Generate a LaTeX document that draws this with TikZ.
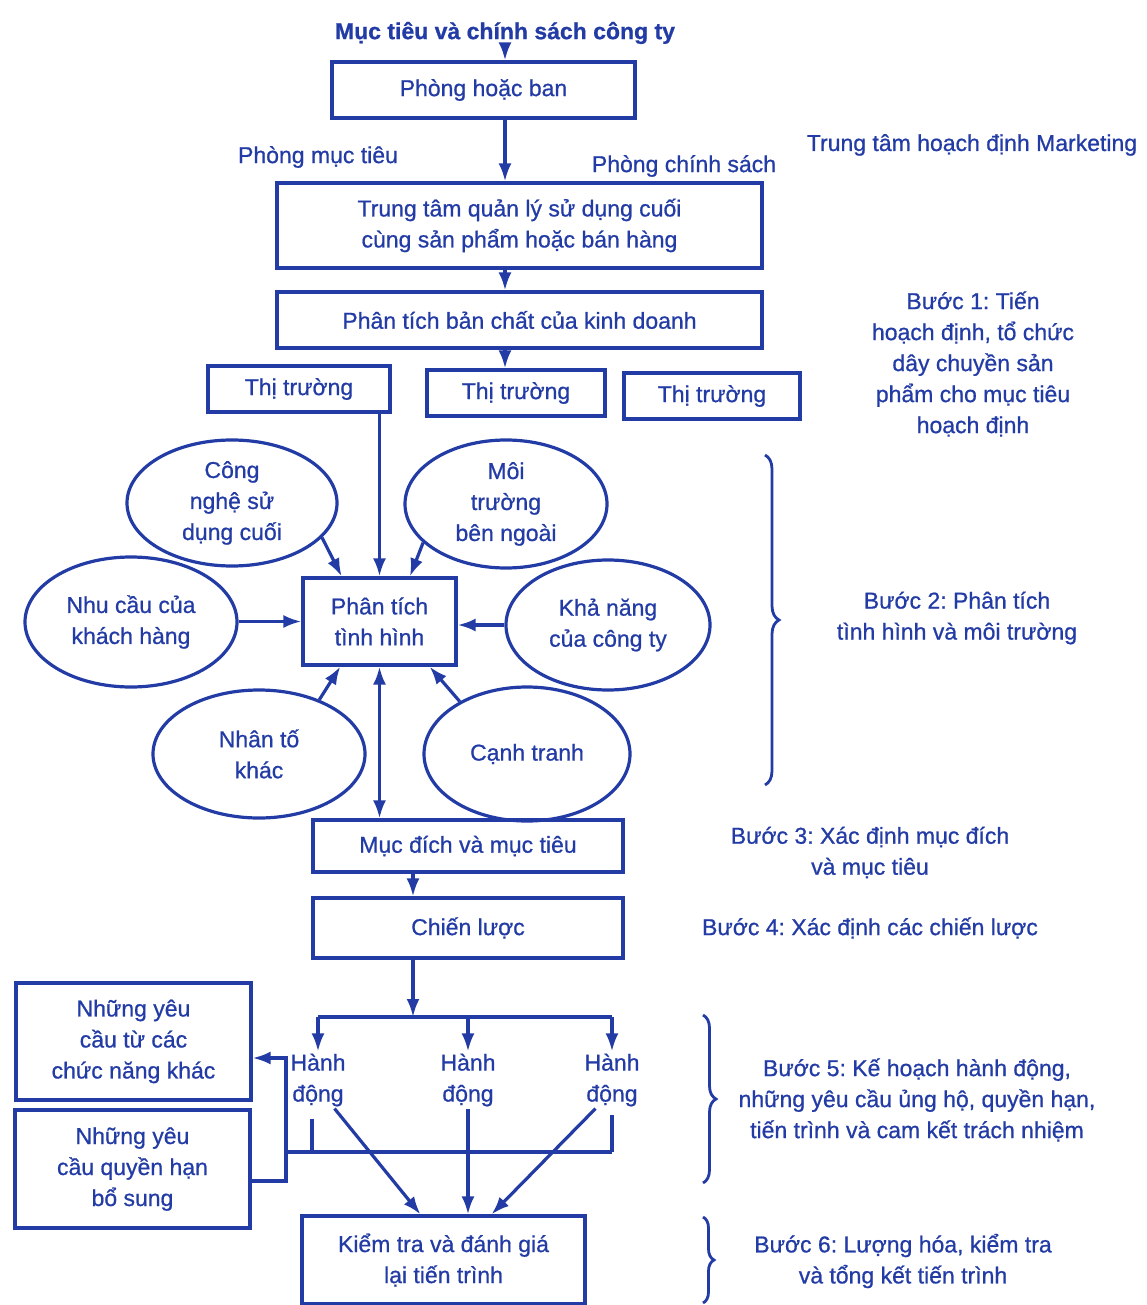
\documentclass[tikz,border=0pt]{standalone}
\usepackage{fontspec}
\setmainfont{Liberation Sans}[FakeBold=0.8]
\usetikzlibrary{shapes.geometric,arrows.meta,decorations.pathreplacing}
\definecolor{ink}{RGB}{35,60,165}
\frenchspacing
\begin{document}
\begin{tikzpicture}[x=10pt,y=10pt,
  box/.style={draw=ink,line width=3.2pt,align=center},
  oval/.style={draw=ink,ellipse,line width=3.2pt,align=center,inner sep=0pt},
  arr/.style={draw=ink,line width=3.2pt,-{Latex[length=18pt,width=13pt]}},
  dblarr/.style={draw=ink,line width=3.2pt,{Latex[length=18pt,width=13pt]}-{Latex[length=18pt,width=13pt]}},
  link/.style={draw=ink,line width=3.2pt},
  brc/.style={draw=ink,line width=2.8pt,decorate,decoration={brace,amplitude=#1}}]
\tikzstyle{every node}+=[font=\fontsize{23}{31}\selectfont,text=ink]
\useasboundingbox (0,0) rectangle (114.7,-130.5);
\node[font=\fontsize{23}{31}\selectfont\bfseries] (title) at (50.5,-3.3) {Mục tiêu và chính sách công ty};
\node[box,minimum width=303pt,minimum height=56pt] (ban) at (48.35,-9.0) {Phòng hoặc ban};
\node (pmt) at (31.8,-15.7) {Phòng mục tiêu};
\node (pcs) at (68.4,-16.6) {Phòng chính sách};
\node (ttm) at (97.2,-14.5) {Trung tâm hoạch định Marketing};
\node[box,minimum width=485pt,minimum height=85pt] (tt) at (51.95,-22.55) {Trung tâm quản lý sử dụng cuối\\cùng sản phẩm hoặc bán hàng};
\node[box,minimum width=485pt,minimum height=56pt] (pt) at (51.95,-32.0) {Phân tích bản chất của kinh doanh};
\node[box,minimum width=182pt,minimum height=46pt] (th1) at (29.9,-38.9) {Thị trường};
\node[box,minimum width=178pt,minimum height=46pt] (th2) at (51.6,-39.3) {Thị trường};
\node[box,minimum width=176pt,minimum height=46pt] (th3) at (71.2,-39.6) {Thị trường};
\node[align=center] (b1) at (97.3,-36.4) {Bước 1: Tiến\\hoạch định, tổ chức\\dây chuyền sản\\phẩm cho mục tiêu\\hoạch định};
\node[oval,minimum width=210pt,minimum height=126pt] (cn) at (23.2,-50.3) {Công\\nghệ sử\\dụng cuối};
\node[oval,minimum width=202pt,minimum height=128pt] (mt) at (50.6,-50.4) {Môi\\trường\\bên ngoài};
\node[oval,minimum width=212pt,minimum height=130pt] (nc) at (13.1,-62.2) {Nhu cầu của\\khách hàng};
\node[box,minimum width=153pt,minimum height=87pt] (tth) at (37.95,-62.15) {Phân tích\\tình hình};
\node[oval,minimum width=204pt,minimum height=130pt] (kn) at (60.8,-62.5) {Khả năng\\của công ty};
\node[oval,minimum width=212pt,minimum height=128pt] (nt) at (25.9,-75.4) {Nhân tố\\khác};
\node[oval,minimum width=206pt,minimum height=134pt] (ct) at (52.7,-75.4) {Cạnh tranh};
\node[align=center] (b2) at (95.7,-61.8) {Bước 2: Phân tích\\tình hình và môi trường};
\node[box,minimum width=310pt,minimum height=52pt] (md) at (46.8,-84.6) {Mục đích và mục tiêu};
\node[box,minimum width=310pt,minimum height=60pt] (cl) at (46.8,-92.8) {Chiến lược};
\node[align=center] (b3) at (87.0,-85.25) {Bước 3: Xác định mục đích\\và mục tiêu};
\node (b4) at (87.0,-92.8) {Bước 4: Xác định các chiến lược};
\node[box,minimum width=235pt,minimum height=117pt] (yc1) at (13.35,-104.15) {Những yêu\\cầu từ các\\chức năng khác};
\node[box,minimum width=235pt,minimum height=118pt] (yc2) at (13.25,-116.9) {Những yêu\\cầu quyền hạn\\bổ sung};
\node[align=center,inner sep=2pt] (hd1) at (31.8,-108.0) {Hành\\động};
\node[align=center,inner sep=2pt] (hd2) at (46.8,-108.0) {Hành\\động};
\node[align=center,inner sep=2pt] (hd3) at (61.2,-108.0) {Hành\\động};
\node[box,minimum width=283pt,minimum height=88pt] (kt) at (44.35,-126.0) {Kiểm tra và đánh giá\\lại tiến trình};
\node[align=center] (b5) at (91.7,-110.0) {Bước 5: Kế hoạch hành động,\\những yêu cầu ủng hộ, quyền hạn,\\tiến trình và cam kết trách nhiệm};
\node[align=center] (b6) at (90.3,-126.1) {Bước 6: Lượng hóa, kiểm tra\\và tổng kết tiến trình};
\draw[arr] (title) -- (ban.north -| title);
\draw[arr] (ban.south -| title) -- (tt.north -| title);
\draw[arr] (tt.south -| title) -- (pt.north -| title);
\draw[arr] (pt.south -| title) -- (th2.north -| title);
\draw[arr] (th1.south -| tth) -- (tth.north);
\draw[arr] (cn.-21) -- (tth.130);
\draw[arr] (mt.205) -- (tth.56);
\draw[arr] (nc.east |- tth) -- (tth.west);
\draw[arr] (kn.west) -- (tth.east |- kn.west);
\draw[arr] (nt.42) -- (tth.229);
\draw[arr] (ct.142) -- (tth.-42);
\draw[dblarr] (tth.south) -- (tth.south |- md.north);
\draw[arr] ([xshift=-55pt]md.south) -- ([xshift=-55pt]cl.north);
\coordinate (fork) at (41.3,-101.7);
\draw[arr] ([xshift=-55pt]cl.south) -- (fork);
\draw[link] (fork -| hd1) -- (fork -| hd3);
\draw[arr] (fork -| hd1) -- (hd1.north);
\draw[arr] (fork -| hd2) -- (hd2.north);
\draw[arr] (fork -| hd3) -- (hd3.north);
\coordinate (join) at (28.6,-115.2);
\coordinate (fb) at (28.6,-105.8);
\draw[link] (join) -- (join -| hd3);
\draw[link] ([xshift=-6pt,yshift=-10pt]hd1.south) -- ([xshift=-6pt]hd1 |- join);
\draw[link] ([yshift=-6pt]hd3.south) -- (hd3 |- join);
\draw[arr] ([yshift=-12pt]yc2.east) -| (fb) -- (fb -| yc1.east);
\draw[arr] (hd1.-60) -- ([xshift=-23pt]kt.north);
\draw[arr] (hd2.south) -- (hd2.south |- kt.north);
\draw[arr] (hd3.-120) -- ([xshift=48pt]kt.north);
\draw[brc=14pt] (76.5,-45.5) -- (76.5,-78.5);
\draw[brc=13pt] (70.3,-101.5) -- (70.3,-118.3);
\draw[brc=11pt] (70.3,-121.7) -- (70.3,-130.3);
\end{tikzpicture}
\end{document}
